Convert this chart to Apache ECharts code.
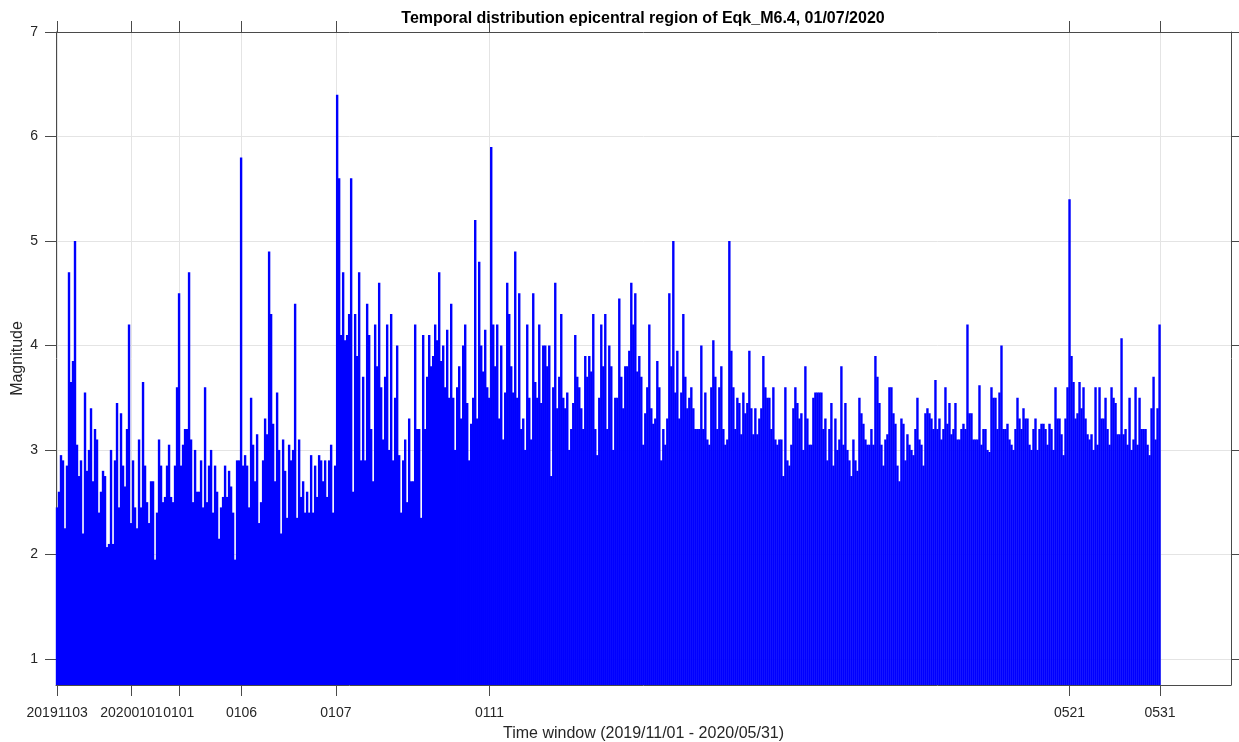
<!DOCTYPE html>
<html>
<head>
<meta charset="utf-8">
<script src="https://cdn.jsdelivr.net/npm/echarts@6/dist/echarts.min.js"></script>
<style>
html,body{margin:0;padding:0;background:#ffffff;}
#chart{width:1239px;height:742px;}
</style>
</head>
<body>
<div id="chart"></div>
<script>
// ---- data (maximum magnitude per bin of consecutive events) ----
const binSize = 17.03;           // events per bin
const xMaxEvents = 10000;        // axis extent (event number)

// events ~0 - 2370 (before the M6.4 main shock)
const magnitudePart1 = [
  2.45,2.6,2.95,2.9,2.25,2.85,4.7,3.65,3.85,5.0,
  3.05,2.75,2.9,2.2,3.55,2.8,3.0,3.4,2.7,3.2,
  3.1,2.4,2.6,2.8,2.75,2.07,2.1,3.0,2.1,2.9,
  3.45,2.45,3.35,2.85,2.65,3.2,4.2,2.3,2.9,2.45,
  2.25,3.1,2.45,3.65,2.85,2.5,2.3,2.7,2.7,1.95,
  2.4,3.1,2.85,2.5,2.55,2.85,3.05,2.55,2.5,2.85,
  3.6,4.5,2.85,3.05,3.2,3.2,4.7,3.1,2.5,3.0,
  2.6,2.6,2.9,2.45,3.6,2.5,2.85,3.0,2.4,2.85,
  2.6,2.15,2.45,2.55,2.85,2.55,2.8,2.65,2.4,1.95,
  2.9,2.9,5.8,2.85,2.95,2.85,2.45,3.5,3.05,2.7,
  3.15,2.3,2.5,2.9,3.3,3.15,4.9,4.3,3.25,2.7,
  3.55,3.0,2.2,3.1,2.8,2.35,3.05,2.9,3.0,4.4,
  2.35,3.1,2.55,2.7,2.4,2.6,2.4,2.95,2.4,2.85,
  2.55,2.95,2.9,2.7,2.9,2.55,2.9,3.05,2.4
];

// events ~2370 - 4700 (main shock and early aftershocks)
const magnitudePart2 = [
  2.85,6.4,5.6,4.1,4.7,4.05,4.1,4.3,5.6,2.6,
  4.3,3.9,4.7,2.9,3.7,2.9,4.4,4.1,3.2,2.7,
  4.2,3.8,4.6,3.6,3.1,3.7,4.2,3.0,4.3,2.9,
  3.5,4.0,2.95,2.4,2.9,3.1,2.5,3.3,2.7,2.7,
  4.2,3.2,3.2,2.35,4.1,3.2,3.7,4.1,3.8,3.9,
  4.2,4.05,4.7,3.85,4.0,3.6,4.15,3.5,4.4,3.5,
  3.0,3.6,3.8,3.3,4.0,4.2,3.45,2.9,3.25,3.5,
  5.2,3.3,4.8,4.0,3.75,4.15,3.6,3.5,5.9,4.2,
  3.8,4.2,3.3,4.0,3.1,3.55,4.6,4.3,3.8,3.55,
  4.9,3.5,4.5,3.2,3.3,3.0,4.2,3.5,3.1,4.5,
  3.65,3.5,4.2,3.45,4.0,4.0,3.8,4.0,2.75,3.6,
  4.6,3.4,3.7,4.3,3.5,3.4,3.55,3.0,3.2,3.45,
  4.1,3.7,3.6,3.4,3.2,3.9,3.7,3.9,3.75,4.3,
  3.2,2.95,3.5,4.2,3.8,4.3,3.2
];

// events ~4700 - 7050
const magnitudePart3 = [
  4.0,3.8,3.0,3.5,3.5,4.45,3.7,3.4,3.8,3.8,
  3.95,4.6,4.2,4.5,3.75,3.9,3.7,3.05,3.35,3.6,
  4.2,3.4,3.25,3.3,3.85,3.6,2.9,3.2,3.05,3.3,
  4.5,3.8,5.0,3.55,3.95,3.3,3.55,4.3,3.7,3.4,
  3.5,3.6,3.4,3.2,3.2,3.2,4.0,3.2,3.55,3.1,
  3.05,3.6,4.05,3.7,3.2,3.6,3.8,3.2,3.05,3.1,
  5.0,3.95,3.6,3.2,3.5,3.45,3.15,3.55,3.35,3.45,
  3.95,3.4,3.15,3.4,3.15,3.3,3.4,3.9,3.6,3.5,
  3.5,3.2,3.6,3.1,3.05,3.1,3.1,2.75,3.6,2.9,
  2.85,3.05,3.4,3.6,3.45,3.3,3.35,3.0,3.8,3.3,
  3.05,3.05,3.5,3.55,3.55,3.55,3.55,3.2,3.3,2.9,
  3.2,3.45,2.85,3.3,3.0,3.1,3.8,3.05,3.45,3.0,
  2.9,2.75,3.1,2.9,2.8,3.5,3.35,3.25,3.1,3.05,
  3.05,3.2,3.05,3.9,3.7,3.45,3.05,2.85
];

// events ~7050 - 9400
const magnitudePart4 = [
  3.1,3.15,3.6,3.6,3.35,3.25,2.85,2.7,3.3,3.25,
  2.9,3.15,3.05,3.0,2.95,3.2,3.5,3.1,3.05,2.85,
  3.35,3.4,3.35,3.3,3.2,3.67,3.2,3.3,3.1,3.2,
  3.6,3.25,3.45,3.15,3.2,3.45,3.1,3.1,3.2,3.25,
  3.2,4.2,3.35,3.35,3.1,3.1,3.1,3.62,3.05,3.2,
  3.2,3.0,2.98,3.6,3.5,3.5,3.2,3.55,4.0,3.2,
  3.2,3.25,3.1,3.05,3.0,3.2,3.5,3.3,3.2,3.4,
  3.3,3.3,3.05,3.0,3.2,3.3,3.0,3.2,3.25,3.25,
  3.2,3.05,3.25,3.2,3.0,3.6,3.3,3.3,3.15,2.95,
  3.3,3.6,5.4,3.9,3.65,3.3,3.35,3.65,3.4,3.6,
  3.3,3.15,3.1,3.15,3.0,3.6,3.05,3.6,3.3,3.3,
  3.5,3.2,3.05,3.6,3.5,3.45,3.15,3.15,4.07,3.15,
  3.2,3.05,3.5,3.0,3.1,3.6,3.05,3.5,3.2,3.2,
  3.2,3.05,2.95,3.4,3.7,3.1,3.4,4.2
];

// x tick positions (event number) and their date labels
const tickEvents = [10, 642, 1045, 1579, 2382, 3689, 8626, 9396];
const tickLabels = ['20191103', '20200101', '0101', '0106', '0107', '0111', '0521', '0531'];
const yTickValues = [1, 2, 3, 4, 5, 6, 7];

// ---- build chart ----
const magnitudes = magnitudePart1.concat(magnitudePart2, magnitudePart3, magnitudePart4);
const seriesData = magnitudes.map((m, i) => [(i + 0.5) * binSize, m]);

const FONT = 'Liberation Sans, Arial, Helvetica, sans-serif';
const AXIS_COLOR = '#4a4a4a';
const GRID_COLOR = '#e4e4e4';

const chart = echarts.init(document.getElementById('chart'), null, {renderer: 'canvas'});
const labelOf = v => {
  for (let i = 0; i < tickEvents.length; i++) {
    if (Math.abs(tickEvents[i] - v) < 0.5) return tickLabels[i];
  }
  return '';
};

const option = {
  animation: false,
  backgroundColor: '#ffffff',
  title: {
    text: 'Temporal distribution epicentral region of Eqk_M6.4, 01/07/2020',
    left: 643,
    top: 11,
    textAlign: 'center',
    padding: 0,
    textStyle: {fontFamily: FONT, fontSize: 16, fontWeight: 'bold', color: '#000000'}
  },
  grid: {left: 56, right: 8, top: 32, bottom: 57, containLabel: false, outerBoundsMode: 'none'},
  xAxis: [
    {
      type: 'value', min: 0, max: xMaxEvents, position: 'bottom',
      axisLine: {show: true, onZero: false, lineStyle: {color: AXIS_COLOR, width: 1}},
      axisTick: {show: true, inside: false, length: 11, customValues: tickEvents, lineStyle: {color: AXIS_COLOR, width: 1}},
      axisLabel: {show: true, customValues: tickEvents, formatter: labelOf, margin: 21,
                  fontFamily: FONT, fontSize: 14, color: '#262626'},
      splitLine: {show: true, lineStyle: {color: GRID_COLOR, width: 1}},
      name: 'Time window (2019/11/01 - 2020/05/31)',
      nameLocation: 'middle', nameGap: 41, nameMoveOverlap: false,
      nameTextStyle: {fontFamily: FONT, fontSize: 16, color: '#262626'}
    },
    {
      type: 'value', min: 0, max: xMaxEvents, position: 'top',
      axisLine: {show: true, onZero: false, lineStyle: {color: AXIS_COLOR, width: 1}},
      axisTick: {show: true, inside: false, length: 11, customValues: tickEvents, lineStyle: {color: AXIS_COLOR, width: 1}},
      axisLabel: {show: false},
      splitLine: {show: false}
    }
  ],
  yAxis: [
    {
      type: 'value', min: 0.75, max: 7, position: 'left',
      axisLine: {show: true, onZero: false, lineStyle: {color: AXIS_COLOR, width: 1}},
      axisTick: {show: true, inside: false, length: 11, customValues: yTickValues, lineStyle: {color: AXIS_COLOR, width: 1}},
      axisLabel: {show: true, customValues: yTickValues, margin: 18,
                  fontFamily: FONT, fontSize: 14, color: '#262626'},
      splitLine: {show: true, lineStyle: {color: GRID_COLOR, width: 1}},
      name: 'Magnitude', nameLocation: 'middle', nameGap: 30, nameRotate: 90, nameMoveOverlap: false,
      nameTextStyle: {fontFamily: FONT, fontSize: 16, color: '#262626'}
    },
    {
      type: 'value', min: 0.75, max: 7, position: 'right',
      axisLine: {show: true, onZero: false, lineStyle: {color: AXIS_COLOR, width: 1}},
      axisTick: {show: true, inside: false, length: 11, customValues: yTickValues, lineStyle: {color: AXIS_COLOR, width: 1}},
      axisLabel: {show: false},
      splitLine: {show: false}
    }
  ],
  series: [
    {
      type: 'bar',
      xAxisIndex: 0, yAxisIndex: 0,
      data: seriesData,
      barWidth: 2.4,
      itemStyle: {color: '#0000ff'},
      emphasis: {disabled: true},
      clip: true,
      z: 2
    }
  ]
};
chart.setOption(option);
</script>
</body>
</html>
